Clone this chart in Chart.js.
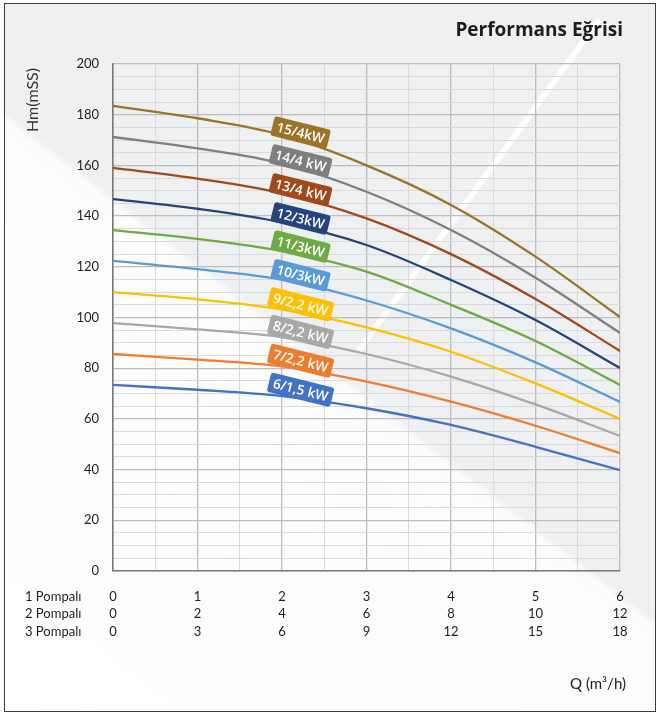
<!DOCTYPE html>
<html>
<head>
<meta charset="utf-8">
<script src="https://cdn.jsdelivr.net/npm/chart.js@4.4.1/dist/chart.umd.min.js"></script>
<style>
  body { margin: 0; background: #fff; }
  #wrap { position: relative; width: 656px; height: 713px; overflow: hidden; }
  #frame {
    position: absolute; left: 4px; top: 3px; width: 650px; height: 707px;
    border: 1px solid #3c3c3c;
    background: linear-gradient(218deg, #eff0f2 0%, #eff0f2 50.6%, #fcfcfc 51.4%, #ffffff 100%);
  }
  #streak {
    position: absolute; left: 476px; top: -20px; width: 6px; height: 410px;
    background: rgba(255,255,255,0.9);
    transform: rotate(36deg); transform-origin: 50% 50%;
  }
  canvas { position: absolute; left: 0; top: 0; }
</style>
</head>
<body>
<div id="wrap">
  <div id="frame"></div>
  <div id="streak"></div>
  <canvas id="perfChart" width="656" height="713"></canvas>
</div>
<script>
const flow = [0, 1, 2, 3, 4, 5, 6];

const pomp1 = ['0', '1', '2', '3', '4', '5', '6'];
const pomp2 = ['0', '2', '4', '6', '8', '10', '12'];
const pomp3 = ['0', '3', '6', '9', '12', '15', '18'];
const rowNames = ['1 Pompalı', '2 Pompalı', '3 Pompalı'];

const h15 = [183.5, 178.6, 172.0, 160.0, 144.4, 124.0, 100.2];
const h14 = [171.2, 166.7, 160.7, 149.6, 134.5, 115.7, 93.9];
const h13 = [159.0, 154.8, 149.0, 139.1, 125.0, 107.3, 86.8];
const h12 = [146.7, 142.9, 137.5, 128.6, 114.8, 99.0, 80.1];
const h11 = [134.5, 131.0, 126.2, 118.1, 105.0, 90.7, 73.4];
const h10 = [122.3, 119.1, 114.9, 106.7, 95.7, 82.3, 66.7];
const h9 = [110.0, 107.2, 103.2, 96.1, 86.5, 74.0, 60.0];
const h8 = [97.8, 95.3, 92.2, 85.6, 76.7, 65.7, 53.3];
const h7 = [85.6, 83.4, 80.7, 74.7, 66.8, 57.3, 46.5];
const h6 = [73.4, 71.5, 69.0, 64.2, 57.6, 49.0, 39.8];

const models = ['15/4kW', '14/4 kW', '13/4 kW', '12/3kW', '11/3kW', '10/3kW', '9/2,2 kW', '8/2,2 kW', '7/2,2 kW', '6/1,5 kW'];
const heads = [h15, h14, h13, h12, h11, h10, h9, h8, h7, h6];
const colors = ['#9a7529', '#7f7f7f', '#9e4a1c', '#25447a', '#6eab45', '#5b9bd5', '#ffc000', '#a8a8a8', '#ed7d31', '#4472c4'];

const datasets = heads.map((h, i) => ({
    label: models[i],
    data: flow.map((q, j) => ({ x: q, y: h[j] })),
    borderColor: colors[i],
    backgroundColor: colors[i],
    borderWidth: 2.3,
    pointRadius: 0,
    cubicInterpolationMode: 'monotone',
    fill: false
}));

// curve name badges + the texts around the plot
const decorPlugin = {
    id: 'decor',
    afterDatasetsDraw(chart) {
        const ctx = chart.ctx;
        const xs = chart.scales.x, ys = chart.scales.y;
        const qAt = 2.22;
        ctx.save();
        ctx.font = '600 13.5px "Open Sans"';
        chart.data.datasets.forEach((ds, i) => {
            const a = ds.data[2], b = ds.data[3];
            const v = a.y + (b.y - a.y) * (qAt - a.x) / (b.x - a.x);
            const px = xs.getPixelForValue(qAt);
            const py = ys.getPixelForValue(v) - 9;
            const tw = ctx.measureText(ds.label).width;
            const w = tw + 9, hgt = 20;
            ctx.save();
            ctx.translate(px, py);
            ctx.rotate(14 * Math.PI / 180);
            ctx.fillStyle = ds.borderColor;
            ctx.beginPath();
            ctx.roundRect(-w / 2, -hgt / 2, w, hgt, 3);
            ctx.fill();
            ctx.fillStyle = '#ffffff';
            ctx.textAlign = 'center';
            ctx.textBaseline = 'middle';
            ctx.fillText(ds.label, 0, 1);
            ctx.restore();
        });
        ctx.restore();
    },
    afterDraw(chart) {
        const ctx = chart.ctx;
        const xs = chart.scales.x;
        ctx.save();
        ctx.fillStyle = '#1e1e1e';
        ctx.font = 'bold 19px "Open Sans"';
        ctx.textAlign = 'right';
        ctx.textBaseline = 'middle';
        ctx.fillText('Performans Eğrisi', 623, 31);

        ctx.font = '16px Lato';
        ctx.fillStyle = '#333';
        ctx.save();
        ctx.translate(33, 100);
        ctx.rotate(-Math.PI / 2);
        ctx.textAlign = 'center';
        ctx.fillText('Hm(mSS)', 0, 0);
        ctx.restore();

        ctx.font = '13px Lato';
        ctx.fillStyle = '#1e1e1e';
        ctx.textAlign = 'left';
        const lh = 17.5;
        rowNames.forEach((r, i) => {
            ctx.fillText(r, 25, xs.top + 17 + lh / 2 + i * lh);
        });

        ctx.font = '15px Lato';
        ctx.textAlign = 'right';
        ctx.fillText('Q (m³/h)', 626, 684);
        ctx.restore();
    }
};

const ctx = document.getElementById('perfChart').getContext('2d');
Chart.defaults.font.family = 'Lato';

new Chart(ctx, {
    type: 'line',
    data: { datasets: datasets },
    plugins: [decorPlugin],
    options: {
        responsive: false,
        animation: false,
        layout: { padding: { top: 64, right: 36, left: 0, bottom: 0 } },
        plugins: {
            legend: { display: false },
            tooltip: { enabled: false }
        },
        scales: {
            x: {
                type: 'linear',
                min: 0,
                max: 6,
                afterFit(s) { s.height = 142; },
                ticks: {
                    stepSize: 0.5,
                    autoSkip: false,
                    maxRotation: 0,
                    padding: 17,
                    color: '#1e1e1e',
                    font: { size: 13, lineHeight: 1.346 },
                    callback: v => Number.isInteger(v) ? [pomp1[v], pomp2[v], pomp3[v]] : ''
                },
                grid: {
                    drawTicks: false,
                    color: c => (c.tick && Number.isInteger(c.tick.value)) ? '#bdbdbd' : '#dadada',
                    lineWidth: c => (c.tick && Number.isInteger(c.tick.value)) ? 1.3 : 1
                },
                border: { color: '#7a7a7a', width: 1.6 }
            },
            y: {
                min: 0,
                max: 200,
                afterFit(s) { s.width = 113; },
                ticks: {
                    stepSize: 5,
                    autoSkip: false,
                    padding: 14,
                    color: '#1e1e1e',
                    font: { size: 13 },
                    callback: v => v % 20 === 0 ? v : ''
                },
                grid: {
                    drawTicks: false,
                    color: c => (c.tick && c.tick.value % 20 === 0) ? '#bdbdbd' : '#dadada',
                    lineWidth: c => (c.tick && c.tick.value % 20 === 0) ? 1.3 : 1
                },
                border: { color: '#7a7a7a', width: 1.6 }
            }
        }
    }
});
</script>
</body>
</html>
